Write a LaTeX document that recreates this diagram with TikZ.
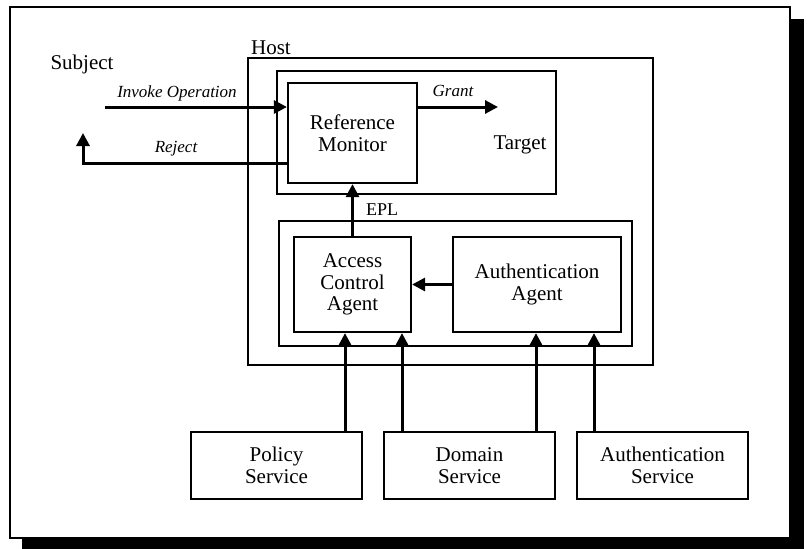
\documentclass[tikz,border=0pt]{standalone}
\usepackage{fontspec}
\setmainfont{Liberation Serif}
\usetikzlibrary{arrows.meta,calc}

\tikzset{
  box/.style={draw, line width=2.2pt, fill=white, align=center, inner sep=0pt,
    font=\fontsize{21}{21.5}\selectfont},
  group/.style={draw, line width=2pt},
  flow/.style={line width=3pt, -{Triangle[length=13pt,width=13pt]}},
  lbl/.style={font=\fontsize{21}{22}\selectfont, inner sep=0pt},
  act/.style={font=\fontsize{17}{19}\itshape, inner sep=0pt},
}

\begin{document}
\begin{tikzpicture}[x=1pt,y=-1pt]
\useasboundingbox (0,0) rectangle (807,549);

% outer frame with drop shadow
\fill[black] (22,19) rectangle (804,549);
\draw[line width=1.5pt, fill=white] (10,7) rectangle (790,538);

% enclosing regions
\draw[group] (248,58) rectangle (653,365);
\draw[group] (277,71) rectangle (556,194);
\draw[group] (279,221) rectangle (632,346);

% components
\node[box, minimum width=129pt, minimum height=100pt] (rm) at (352.5,133) {Reference\\Monitor};
\node[box, minimum width=117pt, minimum height=95pt] (aca) at (352.5,284.5) {Access\\Control\\Agent};
\node[box, minimum width=168pt, minimum height=95pt] (aa) at (537,284.5) {Authentication\\Agent};
\node[box, minimum width=171pt, minimum height=67pt] (ps) at (276.5,465.5) {Policy\\Service};
\node[box, minimum width=171pt, minimum height=67pt] (ds) at (469.5,465.5) {Domain\\Service};
\node[box, minimum width=171pt, minimum height=67pt] (as) at (662.5,465.5) {Authentication\\Service};

% plain labels
\node[lbl] (host) at (271,48) {Host};
\node[lbl] (subject) at (82,64) {Subject};
\node[lbl] (target) at (520,145) {Target};
\node[font=\fontsize{18}{20}\selectfont, inner sep=0pt] (epl) at (382,210) {EPL};
\node[act] (invlbl) at (177,93) {Invoke Operation};
\node[act] (rejlbl) at (176,149) {Reject};
\node[act] (grlbl) at (453,91) {Grant};

% free ends of the operation arrows
\coordinate (inv) at (105,107);
\coordinate (gr) at (498,107);
\coordinate (rjy) at (0,163);
\coordinate (rj) at (83,133);
\coordinate (px) at (345,0);
\coordinate (dx1) at (402,0);
\coordinate (dx2) at (536,0);
\coordinate (ax) at (594,0);

% operation flow
\draw[flow] (inv) -- (inv -| rm.west);
\draw[flow] (rm.east |- gr) -- (gr);
\draw[flow] (rm.west |- rjy) -- (rj |- rjy) -- (rj);
\draw[flow] (aca.north) -- (rm.south);
\draw[flow] (aa.west) -- (aca.east);

% service feeds
\draw[flow] (ps.north -| px) -- (aca.south -| px);
\draw[flow] (ds.north -| dx1) -- (aca.south -| dx1);
\draw[flow] (ds.north -| dx2) -- (aa.south -| dx2);
\draw[flow] (as.north -| ax) -- (aa.south -| ax);
\end{tikzpicture}
\end{document}
